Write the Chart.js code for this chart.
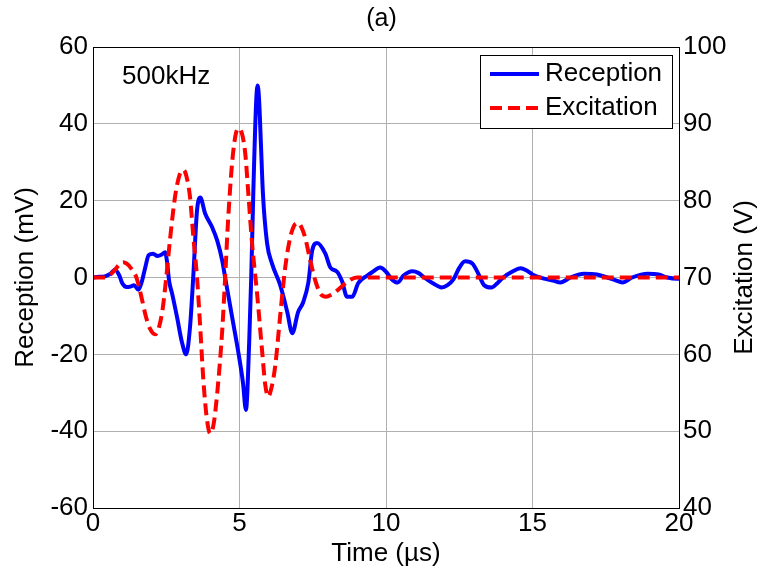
<!DOCTYPE html>
<html>
<head>
<meta charset="utf-8">
<script src="https://cdn.jsdelivr.net/npm/chart.js@4"></script>
<style>
html,body{margin:0;padding:0;background:#fff;}
#wrap{width:763px;height:575px;}
</style>
</head>
<body>
<div id="wrap"><canvas id="c" width="763" height="575"></canvas></div>
<script>
// ---- data ----
const titleText = "(a)";
const annotation = "500kHz";
const xTitle = "Time (\u00b5s)";
const yTitle = "Reception (mV)";
const y2Title = "Excitation (V)";
const seriesNames = ["Reception", "Excitation"];

const receptionTime = [0,0.2,0.4,0.6,0.75,0.9,1.0,1.15,1.3,1.4,1.55,1.65,1.78,1.9,2.05,2.2,2.35,2.46,2.52,2.6,2.7,2.87,3.04,3.18,3.31,3.42,3.55,3.66,3.83,4.07,4.24,4.41,4.51,4.75,4.95,5.12,5.22,5.33,5.4,5.47,5.57,5.62,5.67,5.73,5.8,5.94,6.11,6.39,6.63,6.8,7.0,7.17,7.35,7.48,7.65,7.93,8.1,8.33,8.5,8.67,8.85,9.05,9.36,9.55,9.8,10.0,10.2,10.4,10.6,10.9,11.1,11.3,11.6,11.9,12.1,12.3,12.5,12.7,12.95,13.15,13.35,13.6,13.8,14.0,14.3,14.6,14.8,15.0,15.4,15.7,15.95,16.3,16.75,17.2,17.55,17.8,18.07,18.4,18.93,19.3,19.6,19.95,20];
const receptionMv = [0,0.2,0.3,1,2,0.5,-1.5,-2.5,-2.3,-2,-3.2,-1.5,2.5,5.8,6.2,5.6,6,6.6,4.5,-1,-4.2,-10.4,-17,-20,-13,0,17.4,20.8,16.6,13,9.6,4.4,0,-10.4,-19,-27.5,-34.5,-17,0,21.8,46,50,46,35,21.8,9,3.6,-2,-9,-14.5,-9,-6.5,-1.3,7,9,6.2,2.6,1.5,-1,-5,-5,-1.5,0.5,1.5,2.6,1.5,-0.5,-1.3,0.5,1.6,1.2,0,-1.5,-2.6,-2,-0.5,2.5,4.2,3.6,1,-2,-2.6,-1.5,0,1.5,2.4,1.8,0.8,-0.3,-0.8,-1.3,0,1,0.8,0,-0.6,-1.3,0,1,0.8,0,-0.3,-0.3];

const excitationTime = [0,0.4,0.6,0.75,0.9,1.03,1.15,1.3,1.5,1.65,1.8,1.95,2.12,2.25,2.38,2.5,2.63,2.8,2.95,3.09,3.2,3.31,3.42,3.55,3.66,3.76,3.88,4.0,4.12,4.27,4.41,4.51,4.61,4.75,4.88,4.99,5.1,5.2,5.3,5.43,5.6,5.77,5.88,5.98,6.1,6.22,6.4,6.56,6.73,6.87,7.0,7.12,7.24,7.41,7.58,7.76,7.95,8.15,8.33,8.67,9.0,20];
const excitationV = [70,70,70.4,71,71.7,72,71.8,71.2,69.8,67.5,65,63.3,62.6,63.5,66,70,75,80.5,83.3,84,83,80.5,75.5,70,63.5,57,51.8,49.7,51,56.2,63.1,70,77.4,85,88.8,89.4,88.5,86,81,74.4,67.9,60.5,56,54.5,55.8,58.5,65.5,71.3,75.2,76.8,77.1,76.5,75.2,72.3,69.7,67.9,67.5,67.8,68.3,69.4,70,70];

const xTicks = [0,5,10,15,20];
const yTicks = [-60,-40,-20,0,20,40,60];
const y2Ticks = [40,50,60,70,80,90,100];

// ---- chart ----
const FONT = "'Liberation Sans', Arial, Helvetica, sans-serif";
const FS = 26;
const BLUE = "#0000ff", RED = "#ff0000";

function pts(xs, ys){ return xs.map((x,i)=>({x:x, y:ys[i]})); }

const framePlugin = {
  id:'frame',
  afterDatasetsDraw(chart){
    const {ctx, chartArea:a} = chart;
    ctx.save();
    ctx.strokeStyle = '#000'; ctx.lineWidth = 1;
    ctx.strokeRect(Math.round(a.left)+0.5, Math.round(a.top)+0.5, Math.round(a.right-a.left), Math.round(a.bottom-a.top));
    // annotation
    ctx.fillStyle = '#000';
    ctx.font = FS + "px " + FONT;
    ctx.textBaseline = 'middle'; ctx.textAlign = 'left';
    ctx.fillText(annotation, a.left + 29, a.top + 30);
    // legend box
    const bw = 192, bh = 73;
    const bx = a.right - 7 - bw, by = a.top + 8;
    ctx.fillStyle = '#fff';
    ctx.fillRect(bx, by, bw, bh);
    ctx.strokeStyle = '#000'; ctx.lineWidth = 1;
    ctx.strokeRect(Math.round(bx)+0.5, Math.round(by)+0.5, bw, bh);
    const rows = [by + 19, by + 53];
    const styles = [{c:BLUE, d:[]},{c:RED, d:[12,6]}];
    rows.forEach((ry,i)=>{
      ctx.beginPath();
      ctx.setLineDash(styles[i].d);
      ctx.strokeStyle = styles[i].c; ctx.lineWidth = 4;
      ctx.moveTo(bx+10, ry); ctx.lineTo(bx+59, ry); ctx.stroke();
      ctx.setLineDash([]);
      ctx.fillStyle = '#000';
      ctx.font = FS + "px " + FONT;
      ctx.fillText(chart.data.datasets[i].label, bx + 65, ry);
    });
    ctx.restore();
  },
  afterDraw(chart){
    // right axis title, reading bottom-to-top like the reference
    const {ctx, chartArea:a} = chart;
    ctx.save();
    ctx.translate(745, (a.top + a.bottom) / 2);
    ctx.rotate(-Math.PI / 2);
    ctx.fillStyle = '#000';
    ctx.font = FS + "px " + FONT;
    ctx.textAlign = 'center'; ctx.textBaseline = 'middle';
    ctx.fillText(y2Title, 0, 0);
    ctx.restore();
  }
};

const tickFont = {family: FONT, size: FS};
new Chart(document.getElementById('c'), {
  type: 'line',
  data: {
    datasets: [
      {label: seriesNames[0], data: pts(receptionTime, receptionMv), yAxisID: 'y', borderColor: BLUE, borderWidth: 4, pointRadius: 0, cubicInterpolationMode: 'monotone', fill: false, order: 2},
      {label: seriesNames[1], data: pts(excitationTime, excitationV), yAxisID: 'y2', borderColor: RED, borderWidth: 4, borderDash: [12,6], pointRadius: 0, cubicInterpolationMode: 'monotone', fill: false, order: 1}
    ]
  },
  options: {
    responsive: false,
    animation: false,
    events: [],
    layout: {padding: 0},
    plugins: {
      legend: {display: false},
      tooltip: {enabled: false},
      title: {display: true, text: titleText, color: '#000', font: {family: FONT, size: 25, weight: 'normal'}, padding: {top: 4, bottom: 13}}
    },
    scales: {
      x: {
        type: 'linear', min: 0, max: 20,
        afterBuildTicks: s => { s.ticks = xTicks.map(v=>({value:v})); },
        afterFit: s => { s.height = 67; },
        ticks: {font: tickFont, color: '#000', padding: 0, maxRotation: 0},
        grid: {color: '#b0b0b0', lineWidth: 1, drawTicks: false},
        border: {color: '#000', width: 1},
        title: {display: true, text: xTitle, color: '#000', font: {family: FONT, size: FS}, padding: {top: 0, bottom: 6}}
      },
      y: {
        type: 'linear', position: 'left', min: -60, max: 60,
        afterBuildTicks: s => { s.ticks = yTicks.map(v=>({value:v})); },
        afterFit: s => { s.width = 93; },
        ticks: {font: tickFont, color: '#000', padding: 5},
        grid: {color: '#b0b0b0', lineWidth: 1, drawTicks: false},
        border: {color: '#000', width: 1},
        title: {display: true, text: yTitle, color: '#000', font: {family: FONT, size: FS}, padding: {top: 10, bottom: 0}}
      },
      y2: {
        type: 'linear', position: 'right', min: 40, max: 100,
        afterBuildTicks: s => { s.ticks = y2Ticks.map(v=>({value:v})); },
        afterFit: s => { s.width = 84; },
        ticks: {font: tickFont, color: '#000', padding: 4},
        grid: {drawOnChartArea: false, drawTicks: false},
        border: {color: '#000', width: 1},
        title: {display: false}
      }
    }
  },
  plugins: [framePlugin]
});
</script>
</body>
</html>
